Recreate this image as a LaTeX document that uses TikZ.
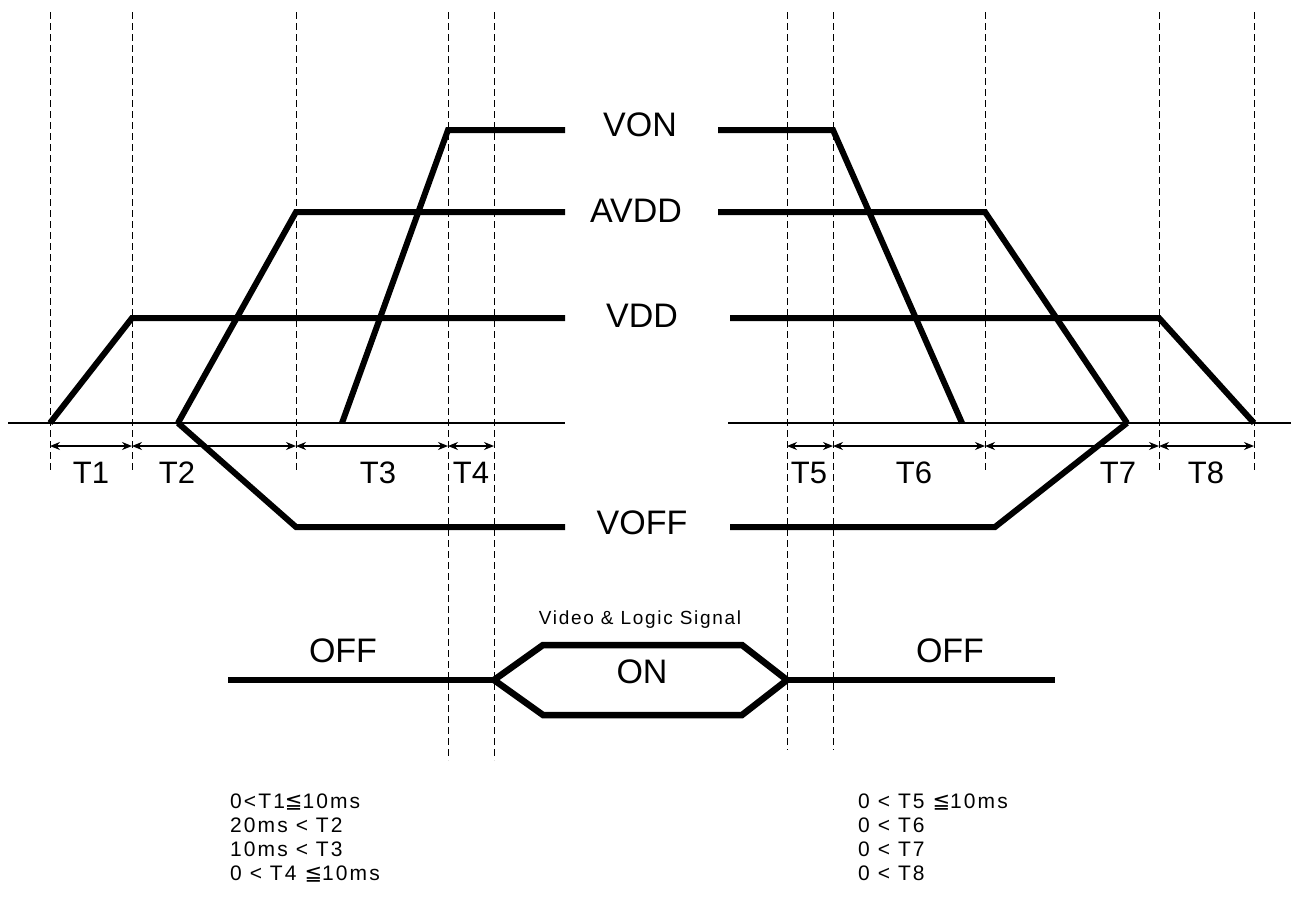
\documentclass[tikz,border=0pt]{standalone}
\usepackage{fontspec}
\setmainfont{Liberation Sans}
\newfontfamily\symfont{DejaVu Sans}
\usetikzlibrary{arrows.meta}
\begin{document}
\begin{tikzpicture}[x=1pt,y=-1pt,
  sig/.style={line width=6pt, line join=miter, line cap=butt},
  bus/.style={line width=6.5pt, line join=miter, line cap=butt},
  guide/.style={line width=1pt, dash pattern=on 7pt off 4pt},
  base/.style={line width=1.3pt},
  span/.style={line width=1.3pt, {Stealth[length=10pt,width=8pt]}-{Stealth[length=10pt,width=8pt]}},
  biglbl/.style={font=\fontsize{34}{36}\selectfont, inner sep=0pt},
  tlbl/.style={font=\fontsize{31}{33}\selectfont, inner sep=0pt},
  smalllbl/.style={font=\fontsize{19}{22}\selectfont\addfontfeature{LetterSpace=9}, inner sep=0pt},
  note/.style={font=\fontsize{21}{24}\selectfont\addfontfeature{LetterSpace=10}, inner sep=0pt, anchor=north west, align=left},
]
\useasboundingbox (0,0) rectangle (1291,902);

% guide lines and span anchor points
\foreach \n/\x/\b in {1/50/470, 2/132/470, 3/296/470, 4/448/760, 5/494/760,
                      6/787/750, 7/833/750, 8/985/470, 9/1159/470, 10/1254/470} {
  \coordinate (gt\n) at (\x,12);
  \coordinate (gb\n) at (\x,\b);
  \coordinate (a\n) at (\x,446);
  \draw[guide] (gt\n) -- (gb\n);
}

% baselines
\coordinate (bl1) at (8,423);
\coordinate (bl2) at (565,423);
\coordinate (br1) at (728,423);
\coordinate (br2) at (1291,423);
\draw[base] (bl1) -- (bl2);
\draw[base] (br1) -- (br2);

% time spans
\draw[span] (a1) -- (a2);
\draw[span] (a2) -- (a3);
\draw[span] (a3) -- (a4);
\draw[span] (a4) -- (a5);
\draw[span] (a6) -- (a7);
\draw[span] (a7) -- (a8);
\draw[span] (a8) -- (a9);
\draw[span] (a9) -- (a10);

\node[tlbl] (t1) at (91,473) {T1};
\node[tlbl] (t2) at (177,473) {T2};
\node[tlbl] (t3) at (378,473) {T3};
\node[tlbl] (t4) at (471,473) {T4};
\node[tlbl] (t5) at (809,473) {T5};
\node[tlbl] (t6) at (914,473) {T6};
\node[tlbl] (t7) at (1118,473) {T7};
\node[tlbl] (t8) at (1206,473) {T8};

% signal labels
\node[biglbl] (von) at (640,125) {VON};
\node[biglbl] (avdd) at (636,211) {AVDD};
\node[biglbl] (vdd) at (642,316) {VDD};
\node[biglbl] (voff) at (642,523) {VOFF};

% VDD
\coordinate (vddA) at (50,423);
\coordinate (vddB) at (132,318);
\coordinate (vddC) at (565,318);
\coordinate (vddD) at (730,318);
\coordinate (vddE) at (1159,318);
\coordinate (vddF) at (1254,423);
\draw[sig] (vddA) -- (vddB) -- (vddC);
\draw[sig] (vddD) -- (vddE) -- (vddF);

% AVDD
\coordinate (avA) at (178,423);
\coordinate (avB) at (296,212);
\coordinate (avC) at (565,212);
\coordinate (avD) at (718,212);
\coordinate (avE) at (985,212);
\coordinate (avF) at (1127,423);
\draw[sig] (avA) -- (avB) -- (avC);
\draw[sig] (avD) -- (avE) -- (avF);

% VON
\coordinate (vonA) at (342,423);
\coordinate (vonB) at (448,130);
\coordinate (vonC) at (565,130);
\coordinate (vonD) at (718,130);
\coordinate (vonE) at (833,130);
\coordinate (vonF) at (962,423);
\draw[sig] (vonA) -- (vonB) -- (vonC);
\draw[sig] (vonD) -- (vonE) -- (vonF);

% VOFF
\coordinate (voffA) at (178,423);
\coordinate (voffB) at (296,527);
\coordinate (voffC) at (565,527);
\coordinate (voffD) at (730,527);
\coordinate (voffE) at (995,527);
\coordinate (voffF) at (1127,423);
\draw[sig] (voffA) -- (voffB) -- (voffC);
\draw[sig] (voffD) -- (voffE) -- (voffF);

% video & logic bus
\coordinate (busL) at (228,680);
\coordinate (hexL) at (494,680);
\coordinate (hexTL) at (543,645);
\coordinate (hexTR) at (742,645);
\coordinate (hexR) at (787,680);
\coordinate (hexBR) at (742,715);
\coordinate (hexBL) at (543,715);
\coordinate (busR) at (1055,680);
\draw[bus] (busL) -- (hexL);
\draw[bus] (hexL) -- (hexTL) -- (hexTR) -- (hexR) -- (hexBR) -- (hexBL) -- cycle;
\draw[bus] (hexR) -- (busR);

\node[smalllbl] (vls) at (640,620) {Video \& Logic Signal};
\node[biglbl] (offl) at (343,651) {OFF};
\node[biglbl] (on) at (642,672) {ON};
\node[biglbl] (offr) at (950,651) {OFF};

% notes
\node[note] (notel) at (230,794) {0<T1{\symfont ≦}10ms\\20ms < T2\\10ms < T3\\0 < T4 {\symfont ≦}10ms};
\node[note] (noter) at (858,794) {0 < T5 {\symfont ≦}10ms\\0 < T6\\0 < T7\\0 < T8};
\end{tikzpicture}
\end{document}
